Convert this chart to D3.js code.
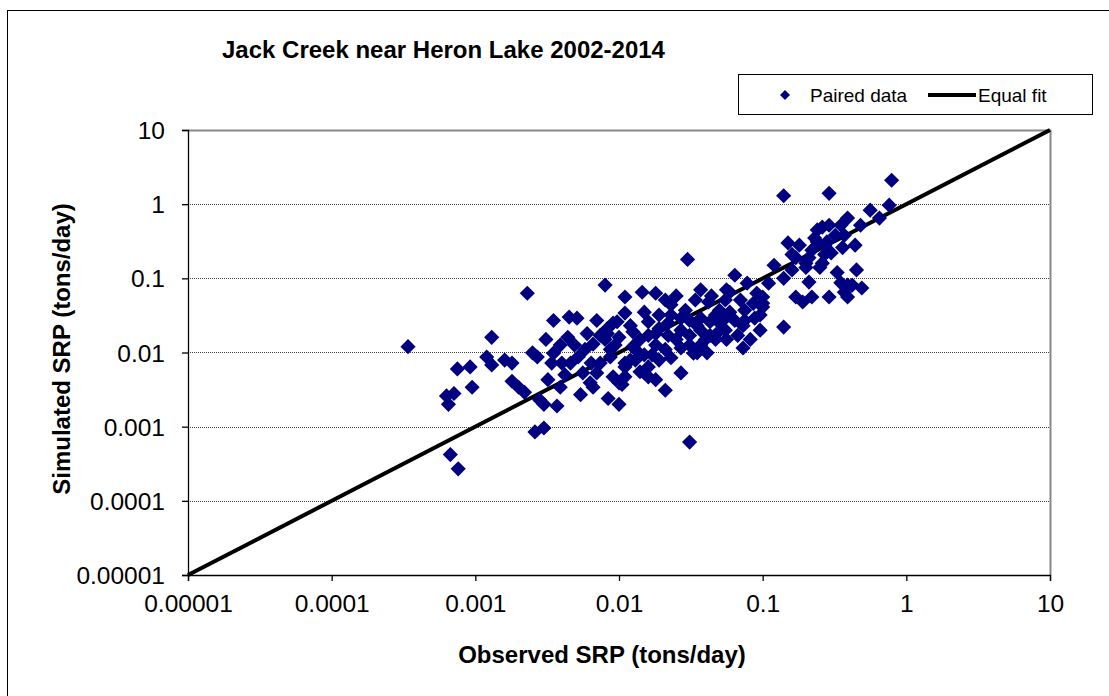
<!DOCTYPE html>
<html><head><meta charset="utf-8">
<script src="https://cdn.jsdelivr.net/npm/d3@7"></script>
<style>body{margin:0;background:#fff;} text{font-family:"Liberation Sans",Arial,sans-serif;}</style>
</head><body>
<svg id="c" width="1109" height="696"></svg>
<script>
const observed = [0.00034,0.00063,0.00071,0.00065,0.00075,0.00092,0.00095,0.00067,0.00076,0.0013,0.0012,0.0013,0.0016,0.0018,0.0018,0.0020,0.0022,0.0023,0.0025,0.0027,0.0035,0.0045,0.0051,0.0044,0.0035,0.0034,0.0040,0.0046,0.0052,0.0064,0.0032,0.0039,0.0037,0.0028,0.0030,0.0054,0.0063,0.0084,0.010,0.0080,0.011,0.0083,0.0060,0.0066,0.0087,0.011,0.010,0.0070,0.0026,0.0030,
0.030,0.064,0.0145,0.018,0.025,0.015,0.011,0.0097,0.0083,0.0125,0.010,0.0080,0.0087,0.011,0.0105,0.021,0.027,0.027,0.035,0.041,0.034,0.042,0.056,0.078,0.091,0.10,0.073,0.096,0.073,0.14,0.056,0.050,0.031,0.048,0.033,
0.023,0.027,0.031,0.037,0.043,0.050,0.059,0.027,0.031,0.037,0.043,0.019,0.016,0.014,0.018,0.021,0.015,0.013,0.019,0.016,0.014,0.037,0.047,0.055,0.064,0.075,0.088,0.070,0.055,
0.15,0.18,0.23,0.26,0.27,0.30,0.26,0.20,0.21,0.14,0.17,0.19,0.22,0.29,0.33,0.086,0.059,
0.14,0.29,0.79,0.76,0.56,0.65,0.39,0.48,0.29,0.24,0.32,0.36,0.28,0.24,0.17,0.21,0.27,0.25,0.20,0.16,0.45,0.35,0.39,0.49,0.10,0.10,0.39,
0.0070,0.0091,0.0074,0.0056,0.0091,0.011,0.0066,0.0125,0.018,0.022,0.013,0.015,
0.016,0.019,0.023,0.029,0.035,0.040,0.031,0.025,0.022,0.017,0.023,0.047,0.055,0.075,0.067,0.082,0.096,0.044,0.037,0.021,0.012,0.0094,0.0074,0.0058,0.0049,0.0039,0.0031,0.0042,0.012,0.016,0.018,
0.11,0.12,0.16,0.22,0.37,0.44,0.35,0.42,0.37];
const simulated = [0.012,0.0026,0.0028,0.0020,0.0060,0.0064,0.0034,0.00042,0.00027,0.016,0.0087,0.0068,0.0079,0.0072,0.0041,0.0034,0.0029,0.063,0.0099,0.0087,0.027,0.030,0.029,0.016,0.0098,0.0072,0.0072,0.0072,0.0087,0.0072,0.0043,0.0034,0.0019,0.0023,0.0020,0.0027,0.0039,0.0024,0.0020,0.081,0.056,0.018,0.018,0.013,0.011,0.0072,0.0039,0.0053,0.00085,0.00096,
0.18,0.11,0.065,0.063,0.058,0.035,0.034,0.026,0.021,0.019,0.016,0.015,0.0087,0.0064,0.0037,0.0031,0.0053,0.0115,0.0099,0.0099,0.051,0.048,0.070,0.086,0.063,0.046,0.023,0.020,0.0115,0.022,0.015,0.025,0.00062,0.018,0.0098,
0.032,0.029,0.027,0.029,0.026,0.037,0.035,0.020,0.017,0.020,0.017,0.021,0.017,0.015,0.0126,0.011,0.0093,0.011,0.0079,0.0064,0.0055,0.0126,0.015,0.020,0.027,0.037,0.029,0.051,0.051,
0.30,0.28,0.35,0.49,0.28,0.22,0.16,0.16,0.089,0.10,0.056,0.048,0.056,0.056,0.12,0.046,0.065,
1.3,1.4,2.1,0.97,0.83,0.65,0.65,0.52,0.52,0.45,0.38,0.26,0.31,0.31,0.19,0.19,0.21,0.14,0.14,0.13,0.13,0.087,0.056,0.074,0.056,0.041,0.081,
0.027,0.025,0.0072,0.0053,0.0047,0.0047,0.0034,0.012,0.018,0.025,0.0079,0.0053,
0.026,0.032,0.044,0.037,0.023,0.015,0.0126,0.015,0.017,0.0093,0.0085,0.032,0.029,0.027,0.017,0.015,0.032,0.058,0.070,0.051,0.023,0.0126,0.017,0.011,0.0126,0.0126,0.015,0.0050,0.0079,0.0047,0.0043,
0.086,0.15,0.21,0.24,0.38,0.28,0.52,0.081,0.065];
const tickValues = [0.00001,0.0001,0.001,0.01,0.1,1,10];
const tickLabels = ["0.00001","0.0001","0.001","0.01","0.1","1","10"];
const fitLine = [0.00001,10];

const svg = d3.select("#c");
const L=188,R=1050,T=130,B=575;
const x = d3.scaleLog().domain([0.00001,10]).range([L,R]);
const y = d3.scaleLog().domain([0.00001,10]).range([B,T]);

// outer border
svg.append("rect").attr("x",7.5).attr("y",10.5).attr("width",1120).attr("height",700).attr("fill","none").attr("stroke","#000").attr("stroke-width",1);

// title
svg.append("text").attr("x",222).attr("y",58).attr("font-size",24).attr("font-weight","bold").text("Jack Creek near Heron Lake 2002-2014");

// gridlines
svg.append("g").selectAll("line").data(tickValues.filter(v=>v<10 && v>0.00001)).join("line")
  .attr("x1",L).attr("x2",R).attr("y1",d=>Math.round(y(d))+0.5).attr("y2",d=>Math.round(y(d))+0.5)
  .attr("stroke","#444").attr("stroke-width",1).attr("stroke-dasharray","1,1");
// plot border top/right grey
svg.append("path").attr("d",`M${L},${T+0.5}H${R+0.5}V${B}`).attr("fill","none").attr("stroke","#888").attr("stroke-width",2);

// equal fit line (behind points)
svg.append("line").attr("x1",x(fitLine[0])).attr("y1",y(fitLine[0])).attr("x2",x(fitLine[1])).attr("y2",y(fitLine[1]))
  .attr("stroke","#000").attr("stroke-width",4);

// axes
const xAxis = d3.axisBottom(x).tickValues(tickValues).tickFormat((d,i)=>tickLabels[i]).tickSizeOuter(0).tickSize(6).tickPadding(14);
const gx = svg.append("g").attr("transform",`translate(0,${B})`).call(xAxis);
const yAxis = d3.axisLeft(y).tickValues(tickValues).tickFormat((d,i)=>tickLabels[i]).tickSizeOuter(0).tickSize(6).tickPadding(17);
const gy = svg.append("g").attr("transform",`translate(${L},0)`).call(yAxis);
[gx,gy].forEach(g=>{g.attr("font-size",null).attr("font-family",null);
  g.selectAll("text").attr("font-size",24.5).attr("fill","#000");
  g.selectAll("line,path").attr("stroke","#000").attr("stroke-width",1.3);});
gy.selectAll(".tick text").attr("dy","0.35em");

// data points
const pts = observed.map((o,i)=>[o,simulated[i]]);
const diamond = d3.symbol().type(d3.symbolSquare).size(115);
svg.append("g").selectAll("path").data(pts).join("path")
  .attr("d",diamond).attr("transform",d=>`translate(${x(d[0])},${y(d[1])}) rotate(45)`)
  .attr("fill","#000080");

// axis titles
svg.append("text").attr("x",602).attr("y",663).attr("text-anchor","middle").attr("font-size",24).attr("font-weight","bold").text("Observed SRP (tons/day)");
svg.append("text").attr("transform","translate(70,349) rotate(-90)").attr("text-anchor","middle").attr("font-size",24).attr("font-weight","bold").text("Simulated SRP (tons/day)");

// legend
const lg = svg.append("g");
lg.append("rect").attr("x",738.5).attr("y",74.5).attr("width",354).attr("height",40).attr("fill","#fff").attr("stroke","#000");
lg.append("path").attr("d",d3.symbol().type(d3.symbolSquare).size(50)).attr("transform","translate(785,95) rotate(45)").attr("fill","#000080");
lg.append("text").attr("x",810).attr("y",102).attr("font-size",19).text("Paired data");
lg.append("line").attr("x1",928).attr("x2",976).attr("y1",95).attr("y2",95).attr("stroke","#000").attr("stroke-width",4);
lg.append("text").attr("x",978).attr("y",102).attr("font-size",19).text("Equal fit");
</script>
</body></html>
